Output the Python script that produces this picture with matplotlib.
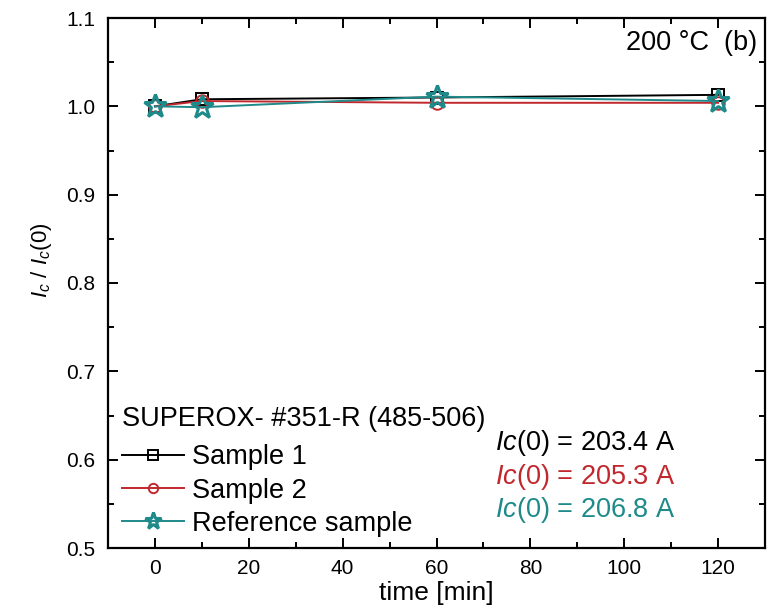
import matplotlib
matplotlib.use("Agg")
import matplotlib.pyplot as plt
from matplotlib.ticker import MultipleLocator, FormatStrFormatter

plt.rcParams['font.family'] = ['Liberation Sans', 'DejaVu Sans']
plt.rcParams['mathtext.fontset'] = 'custom'
plt.rcParams['mathtext.rm'] = 'Liberation Sans'
plt.rcParams['mathtext.it'] = 'Liberation Sans:italic'

time = [0, 10, 60, 120]
sample1 = [1.000, 1.008, 1.010, 1.013]
sample2 = [1.000, 1.006, 1.004, 1.004]
reference = [1.000, 0.999, 1.011, 1.006]
ic0_labels = ["203.4", "205.3", "206.8"]
series_names = ["Sample 1", "Sample 2", "Reference sample"]

c_black = "#000000"
c_red = "#c0282d"
c_teal = "#1f8a8a"

W, H = 770, 605
fig = plt.figure(figsize=(W/100, H/100), dpi=100)
ax = fig.add_axes([108/W, 1-548/H, (765-108)/W, (548-18)/H])

def fx(px):
    return px / W

def fy(py):
    return 1 - py / H

ax.plot(time, sample1, color=c_black, lw=1.4, marker='s', ms=9, mfc='none', mec=c_black, mew=1.4, label=series_names[0], zorder=3)
ax.plot(time, sample2, color=c_red, lw=1.4, marker='o', ms=9, mfc='none', mec=c_red, mew=1.4, label=series_names[1], zorder=3)
ax.plot(time, reference, color=c_teal, lw=1.4, marker='*', ms=17, mfc='none', mec=c_teal, mew=2.2, label=series_names[2], zorder=4)

ax.set_xlim(-10, 130)
ax.set_ylim(0.5, 1.1)
ax.xaxis.set_major_locator(MultipleLocator(20))
ax.xaxis.set_minor_locator(MultipleLocator(10))
ax.yaxis.set_major_locator(MultipleLocator(0.1))
ax.yaxis.set_minor_locator(MultipleLocator(0.05))
ax.yaxis.set_major_formatter(FormatStrFormatter('%.1f'))
ax.tick_params(which='both', direction='in', top=True, right=True, labelsize=15, width=1.4)
ax.tick_params(which='major', length=7)
ax.tick_params(which='minor', length=4)
ax.tick_params(axis='y', pad=9)
ax.tick_params(axis='x', pad=8)
for s in ax.spines.values():
    s.set_linewidth(1.6)

ax.set_xlabel('time [min]', fontsize=19)
ax.xaxis.set_label_coords(0.5, 1 - (593 - 18) / (548 - 18), transform=ax.transAxes)
ax.xaxis.label.set_va('center')
ax.set_ylabel(r'$I_c$ / $I_c$(0)', fontsize=16)
ax.yaxis.set_label_coords((41 - 108) / (765 - 108), 1 - (260 - 18) / (548 - 18), transform=ax.transAxes)
ax.yaxis.label.set_va('center')

leg = ax.legend(loc='upper left', bbox_to_anchor=(fx(122), fy(406)), bbox_transform=fig.transFigure,
                frameon=False, title='SUPEROX- #351-R (485-506)', title_fontsize=19.5, fontsize=19.5,
                handlelength=2.3, handletextpad=0.3, labelspacing=0.26, borderaxespad=0.0, borderpad=0.0,
                markerscale=0.75, alignment='left')
leg._legend_box.sep = 9

colors = [c_black, c_red, c_teal]
ys = [443, 477, 510]
for lab, col, yy in zip(ic0_labels, colors, ys):
    fig.text(fx(495), fy(yy), r'$Ic$(0) = ' + lab + ' A', color=col,
             fontsize=19.5, ha='left', va='center')

fig.text(fx(757), fy(43), '200 °C  (b)', fontsize=19.5, ha='right', va='center')

fig.savefig('out.png', dpi=100)
